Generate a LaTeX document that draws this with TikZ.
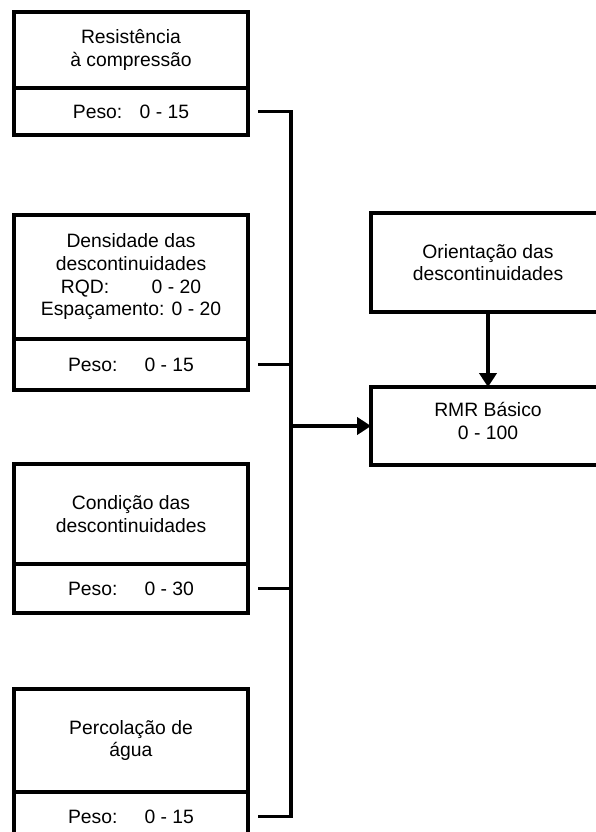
\documentclass[tikz,border=0pt]{standalone}
\usepackage{fontspec}
\setmainfont{Liberation Sans}
\usetikzlibrary{positioning,arrows.meta}

\begin{document}
\begin{tikzpicture}[
    x=0.75pt, y=-0.75pt,
    param/.style={
        rectangle,
        anchor=north west,
        minimum width=175.5pt,
        draw=black,
        line width=2.4pt,
        outer sep=0pt,
        align=center,
        font=\fontsize{14.5}{17}\selectfont
    },
    weight/.style={
        param,
        anchor=north,
        minimum height=36.75pt
    },
    link/.style={
        line width=2.4pt
    },
    arrow/.style={
        link,
        -{Triangle[length=10.5pt,width=13pt]}
    }
]

\useasboundingbox (0,0) rectangle (596,832);
\clip (0,0) rectangle (596,832);

% Parameters
\node[param, minimum height=57pt] (res) at (14,12) {Resistência\\à compressão};
\node[weight, minimum height=35.25pt, below=0pt of res] (pres) {Peso:\hspace{0.9em}0 - 15};

\node[param, minimum height=93pt] (dens) at (14,215) {Densidade das\\descontinuidades\\RQD:\hspace{2.2em}0 - 20\\Espaçamento: 0 - 20};
\node[weight, minimum height=38.25pt, below=0pt of dens] (pdens) {Peso:\hspace{1.4em}0 - 15};

\node[param, minimum height=75pt] (cond) at (14,464) {Condição das\\descontinuidades};
\node[weight, below=0pt of cond] (pcond) {Peso:\hspace{1.4em}0 - 30};

\node[param, minimum height=77.25pt] (perc) at (14,689) {Percolação de\\água};
\node[weight, below=0pt of perc] (pperc) {Peso:\hspace{1.4em}0 - 15};

% Result
\node[param, minimum height=74.25pt] (orient) at (371,213) {Orientação das\\descontinuidades};
\node[param, minimum height=58.5pt, text depth=8pt] (rmr) at (371,387) {RMR Básico\\0 - 100};

% Connectors
\coordinate (bus) at (291,0);
\draw[link] ([xshift=7.5pt]pres.east) -| (bus |- pperc.east) -- ([xshift=7.5pt]pperc.east);
\draw[link] ([xshift=7.5pt]pdens.east) -- (bus |- pdens.east);
\draw[link] ([xshift=7.5pt]pcond.east) -- (bus |- pcond.east);
\draw[arrow] (bus |- rmr.west) -- (rmr.west);
\draw[arrow] (orient) -- (rmr);

\end{tikzpicture}
\end{document}
